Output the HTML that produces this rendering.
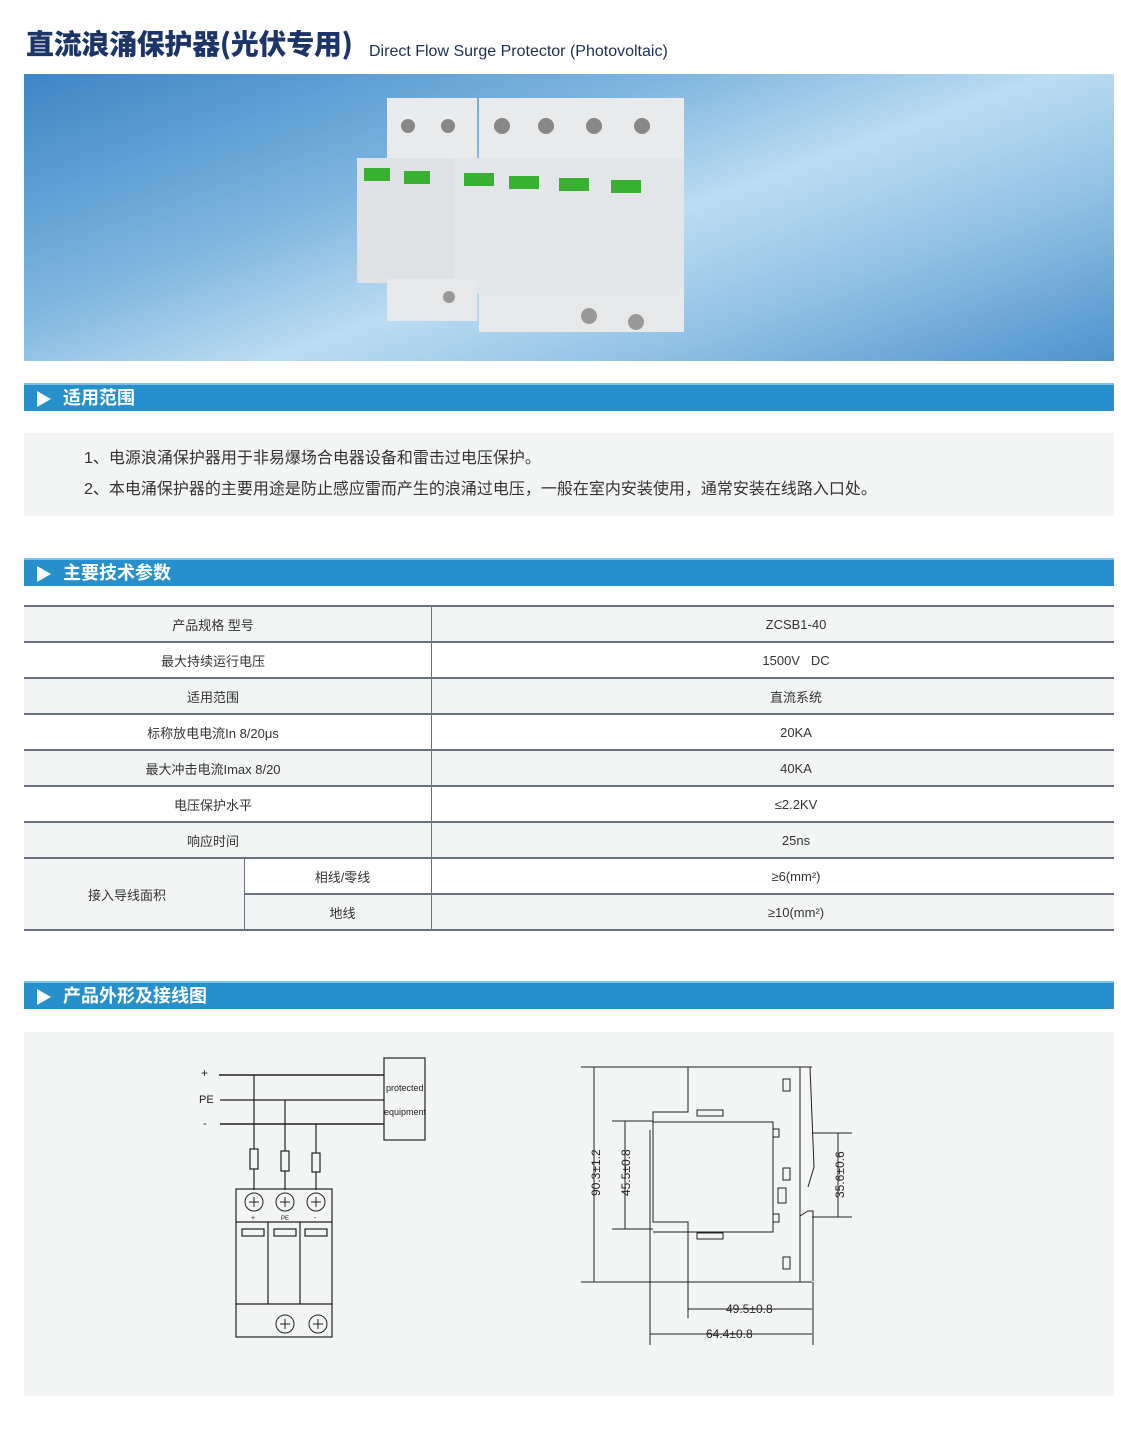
<!DOCTYPE html>
<html><head><meta charset="utf-8">
<style>
*{margin:0;padding:0;box-sizing:border-box}
body{width:1121px;height:1433px;background:#fff;position:relative;font-family:"Liberation Sans","Noto Sans CJK SC",sans-serif;overflow:hidden}
.abs{position:absolute}
.bar{position:absolute;left:24px;width:1090px;height:28px;background:#2590cb;border-top:2px solid #7cc0e6;color:#fff;font-size:18px;font-weight:bold;line-height:26px;padding-left:39px}
.bar:before{content:"";position:absolute;left:13px;top:6px;border-left:14px solid #fff;border-top:8px solid transparent;border-bottom:8px solid transparent}
.row{position:absolute;left:24px;width:1090px;border-bottom:2px solid #6a7080;font-size:13px;color:#333}
.c{position:absolute;text-align:center;top:0;bottom:0;display:flex;align-items:center;justify-content:center}
</style></head><body>
<div class="abs" style="left:26px;top:23px;font-size:28px;font-weight:900;color:#1b3568;font-family:'Noto Sans CJK SC',sans-serif;letter-spacing:-0.3px">直流浪涌保护器(光伏专用)</div>
<div class="abs" style="left:369px;top:43px;font-size:16px;color:#1b2f55">Direct Flow Surge Protector (Photovoltaic)</div>

<div class="abs" style="left:24px;top:74px;width:1090px;height:287px;background:linear-gradient(160deg,#3c86c6 0%,#7fb6df 35%,#bcdcf1 55%,#8fc0e4 75%,#4f92cc 100%)">
<svg width="1090" height="287">
<rect x="363" y="24" width="90" height="60" fill="#e8eaeb"/>
<rect x="455" y="24" width="205" height="60" fill="#e8eaeb"/>
<g fill="#888"><circle cx="384" cy="52" r="7"/><circle cx="424" cy="52" r="7"/><circle cx="478" cy="52" r="8"/><circle cx="522" cy="52" r="8"/><circle cx="570" cy="52" r="8"/><circle cx="618" cy="52" r="8"/></g>
<rect x="333" y="84" width="120" height="125" fill="#dfe2e4"/>
<rect x="430" y="84" width="230" height="135" fill="#e3e6e8"/>
<rect x="363" y="205" width="90" height="42" fill="#e6e8e9"/>
<rect x="455" y="215" width="205" height="43" fill="#e6e8e9"/>
<g fill="#38b030"><rect x="340" y="94" width="26" height="13"/><rect x="380" y="97" width="26" height="13"/><rect x="440" y="99" width="30" height="13"/><rect x="485" y="102" width="30" height="13"/><rect x="535" y="104" width="30" height="13"/><rect x="587" y="106" width="30" height="13"/></g>
<g fill="#999"><circle cx="425" cy="223" r="6"/><circle cx="565" cy="242" r="8"/><circle cx="612" cy="248" r="8"/></g>
</svg></div>

<div class="bar" style="top:383px">适用范围</div>
<div class="abs" style="left:24px;top:433px;width:1090px;height:83px;background:#f3f4f4;font-size:16px;color:#333;line-height:31px;padding:10px 0 0 60px">1、电源浪涌保护器用于非易爆场合电器设备和雷击过电压保护。<br>2、本电涌保护器的主要用途是防止感应雷而产生的浪涌过电压，一般在室内安装使用，通常安装在线路入口处。</div>

<div class="bar" style="top:558px">主要技术参数</div>
<div class="abs" style="left:24px;top:605px;width:1090px;height:2px;background:#6a7080"></div>
<div class="row" style="top:607px;height:36px;background:#f3f5f5"><div class="c" style="left:0;width:378px">产品规格 型号</div><div class="c" style="left:408px;right:0;padding-left:46px">ZCSB1-40</div></div>
<div class="row" style="top:643px;height:36px;background:#fff"><div class="c" style="left:0;width:378px">最大持续运行电压</div><div class="c" style="left:408px;right:0;padding-left:46px">1500V &nbsp; DC</div></div>
<div class="row" style="top:679px;height:36px;background:#f3f5f5"><div class="c" style="left:0;width:378px">适用范围</div><div class="c" style="left:408px;right:0;padding-left:46px">直流系统</div></div>
<div class="row" style="top:715px;height:36px;background:#fff"><div class="c" style="left:0;width:378px">标称放电电流In 8/20μs</div><div class="c" style="left:408px;right:0;padding-left:46px">20KA</div></div>
<div class="row" style="top:751px;height:36px;background:#f3f5f5"><div class="c" style="left:0;width:378px">最大冲击电流Imax 8/20</div><div class="c" style="left:408px;right:0;padding-left:46px">40KA</div></div>
<div class="row" style="top:787px;height:36px;background:#fff"><div class="c" style="left:0;width:378px">电压保护水平</div><div class="c" style="left:408px;right:0;padding-left:46px">≤2.2KV</div></div>
<div class="row" style="top:823px;height:36px;background:#f3f5f5"><div class="c" style="left:0;width:378px">响应时间</div><div class="c" style="left:408px;right:0;padding-left:46px">25ns</div></div>
<div class="row" style="top:859px;height:36px;background:#fff;left:245px;width:869px"><div class="c" style="left:0;width:195px">相线/零线</div><div class="c" style="left:187px;right:0;padding-left:46px">≥6(mm²)</div></div>
<div class="row" style="top:895px;height:36px;background:#f3f5f5;left:245px;width:869px"><div class="c" style="left:0;width:195px">地线</div><div class="c" style="left:187px;right:0;padding-left:46px">≥10(mm²)</div></div>
<div class="row" style="top:859px;height:72px;left:24px;width:221px;background:#f3f5f5;border-right:1px solid #6a7080"><div class="c" style="left:0;right:14px">接入导线面积</div></div>
<div class="abs" style="left:431px;top:607px;width:1px;height:323px;background:#6a7080"></div>

<div class="bar" style="top:981px">产品外形及接线图</div>
<div class="abs" style="left:24px;top:1032px;width:1090px;height:364px;background:#f3f4f4">
<svg width="1090" height="364" style="position:absolute;left:0;top:0" font-family="Liberation Sans" fill="none" stroke="#222" stroke-width="1.2">
<g transform="translate(-24,-1032)">
<text x="201" y="1077" fill="#222" stroke="none" font-size="12">+</text>
<text x="199" y="1103" fill="#222" stroke="none" font-size="11">PE</text>
<text x="203" y="1127" fill="#222" stroke="none" font-size="11">-</text>
<line x1="219" y1="1075" x2="384" y2="1075" stroke-width="1.5"/>
<line x1="220" y1="1100" x2="384" y2="1100"/>
<line x1="220" y1="1124" x2="384" y2="1124" stroke-width="1.5"/>
<rect x="384" y="1058" width="41" height="82"/>
<text x="386" y="1091" fill="#222" stroke="none" font-size="9">protected</text>
<text x="384" y="1115" fill="#222" stroke="none" font-size="9">equipment</text>
<line x1="254" y1="1075" x2="254" y2="1190"/>
<line x1="285" y1="1100" x2="285" y2="1190"/>
<line x1="316" y1="1124" x2="316" y2="1190"/>
<rect x="250" y="1149" width="8" height="20" fill="#f3f4f4"/>
<rect x="281" y="1151" width="8" height="20" fill="#f3f4f4"/>
<rect x="312" y="1153" width="8" height="19" fill="#f3f4f4"/>
<rect x="236" y="1189" width="96" height="148"/>
<line x1="236" y1="1222" x2="332" y2="1222"/>
<line x1="236" y1="1304" x2="332" y2="1304"/>
<line x1="268" y1="1222" x2="268" y2="1304"/><line x1="300" y1="1222" x2="300" y2="1304"/>
<rect x="242" y="1229" width="22" height="7"/><rect x="274" y="1229" width="22" height="7"/><rect x="305" y="1229" width="22" height="7"/>
<g stroke-width="1"><circle cx="254" cy="1202" r="9"/><circle cx="285" cy="1202" r="9"/><circle cx="316" cy="1202" r="9"/><circle cx="285" cy="1324" r="9"/><circle cx="318" cy="1324" r="9"/>
<path d="M249 1202h10M254 1197v10M280 1202h10M285 1197v10M311 1202h10M316 1197v10M280 1324h10M285 1319v10M313 1324h10M318 1319v10"/></g>
<text x="251" y="1220" fill="#222" stroke="none" font-size="7">+</text><text x="281" y="1220" fill="#222" stroke="none" font-size="6">PE</text><text x="314" y="1220" fill="#222" stroke="none" font-size="7">-</text>
<g stroke-width="1">
<line x1="581" y1="1067" x2="812" y2="1067"/><line x1="581" y1="1282" x2="812" y2="1282"/>
<line x1="594" y1="1067" x2="594" y2="1282"/>
<path d="M688 1067v45 h-35 v110 h35 v60"/>
<path d="M653 1122 h120 v110 h-120"/>
<line x1="612" y1="1121" x2="653" y2="1121"/><line x1="612" y1="1229" x2="653" y2="1229"/>
<line x1="625" y1="1121" x2="625" y2="1229"/>
<path d="M800 1067v215 M800 1067 h10 l4 100 l-6 20 M800 1216 l8-5 h5 v70"/>
<line x1="812" y1="1133" x2="852" y2="1133"/><line x1="812" y1="1217" x2="852" y2="1217"/>
<line x1="838" y1="1133" x2="838" y2="1217"/>
<rect x="697" y="1110" width="26" height="6"/><rect x="697" y="1233" width="26" height="6"/>
<rect x="783" y="1079" width="7" height="12"/><rect x="783" y="1168" width="7" height="12"/><rect x="783" y="1257" width="7" height="12"/><rect x="778" y="1188" width="8" height="15"/>
<rect x="773" y="1129" width="6" height="8"/><rect x="773" y="1214" width="6" height="8"/>
<line x1="688" y1="1282" x2="688" y2="1318"/><line x1="650" y1="1130" x2="650" y2="1345"/><line x1="813" y1="1282" x2="813" y2="1345"/>
<line x1="688" y1="1309" x2="812" y2="1309"/><line x1="650" y1="1334" x2="812" y2="1334"/>
</g>
<g fill="#222" stroke="none" font-size="12">
<text transform="translate(600,1196) rotate(-90)">90.3±1.2</text>
<text transform="translate(630,1196) rotate(-90)">45.5±0.8</text>
<text transform="translate(844,1198) rotate(-90)">35.6±0.6</text>
<text x="726" y="1313">49.5±0.8</text>
<text x="706" y="1338">64.4±0.8</text>
</g>
</g></svg></div>
</body></html>
